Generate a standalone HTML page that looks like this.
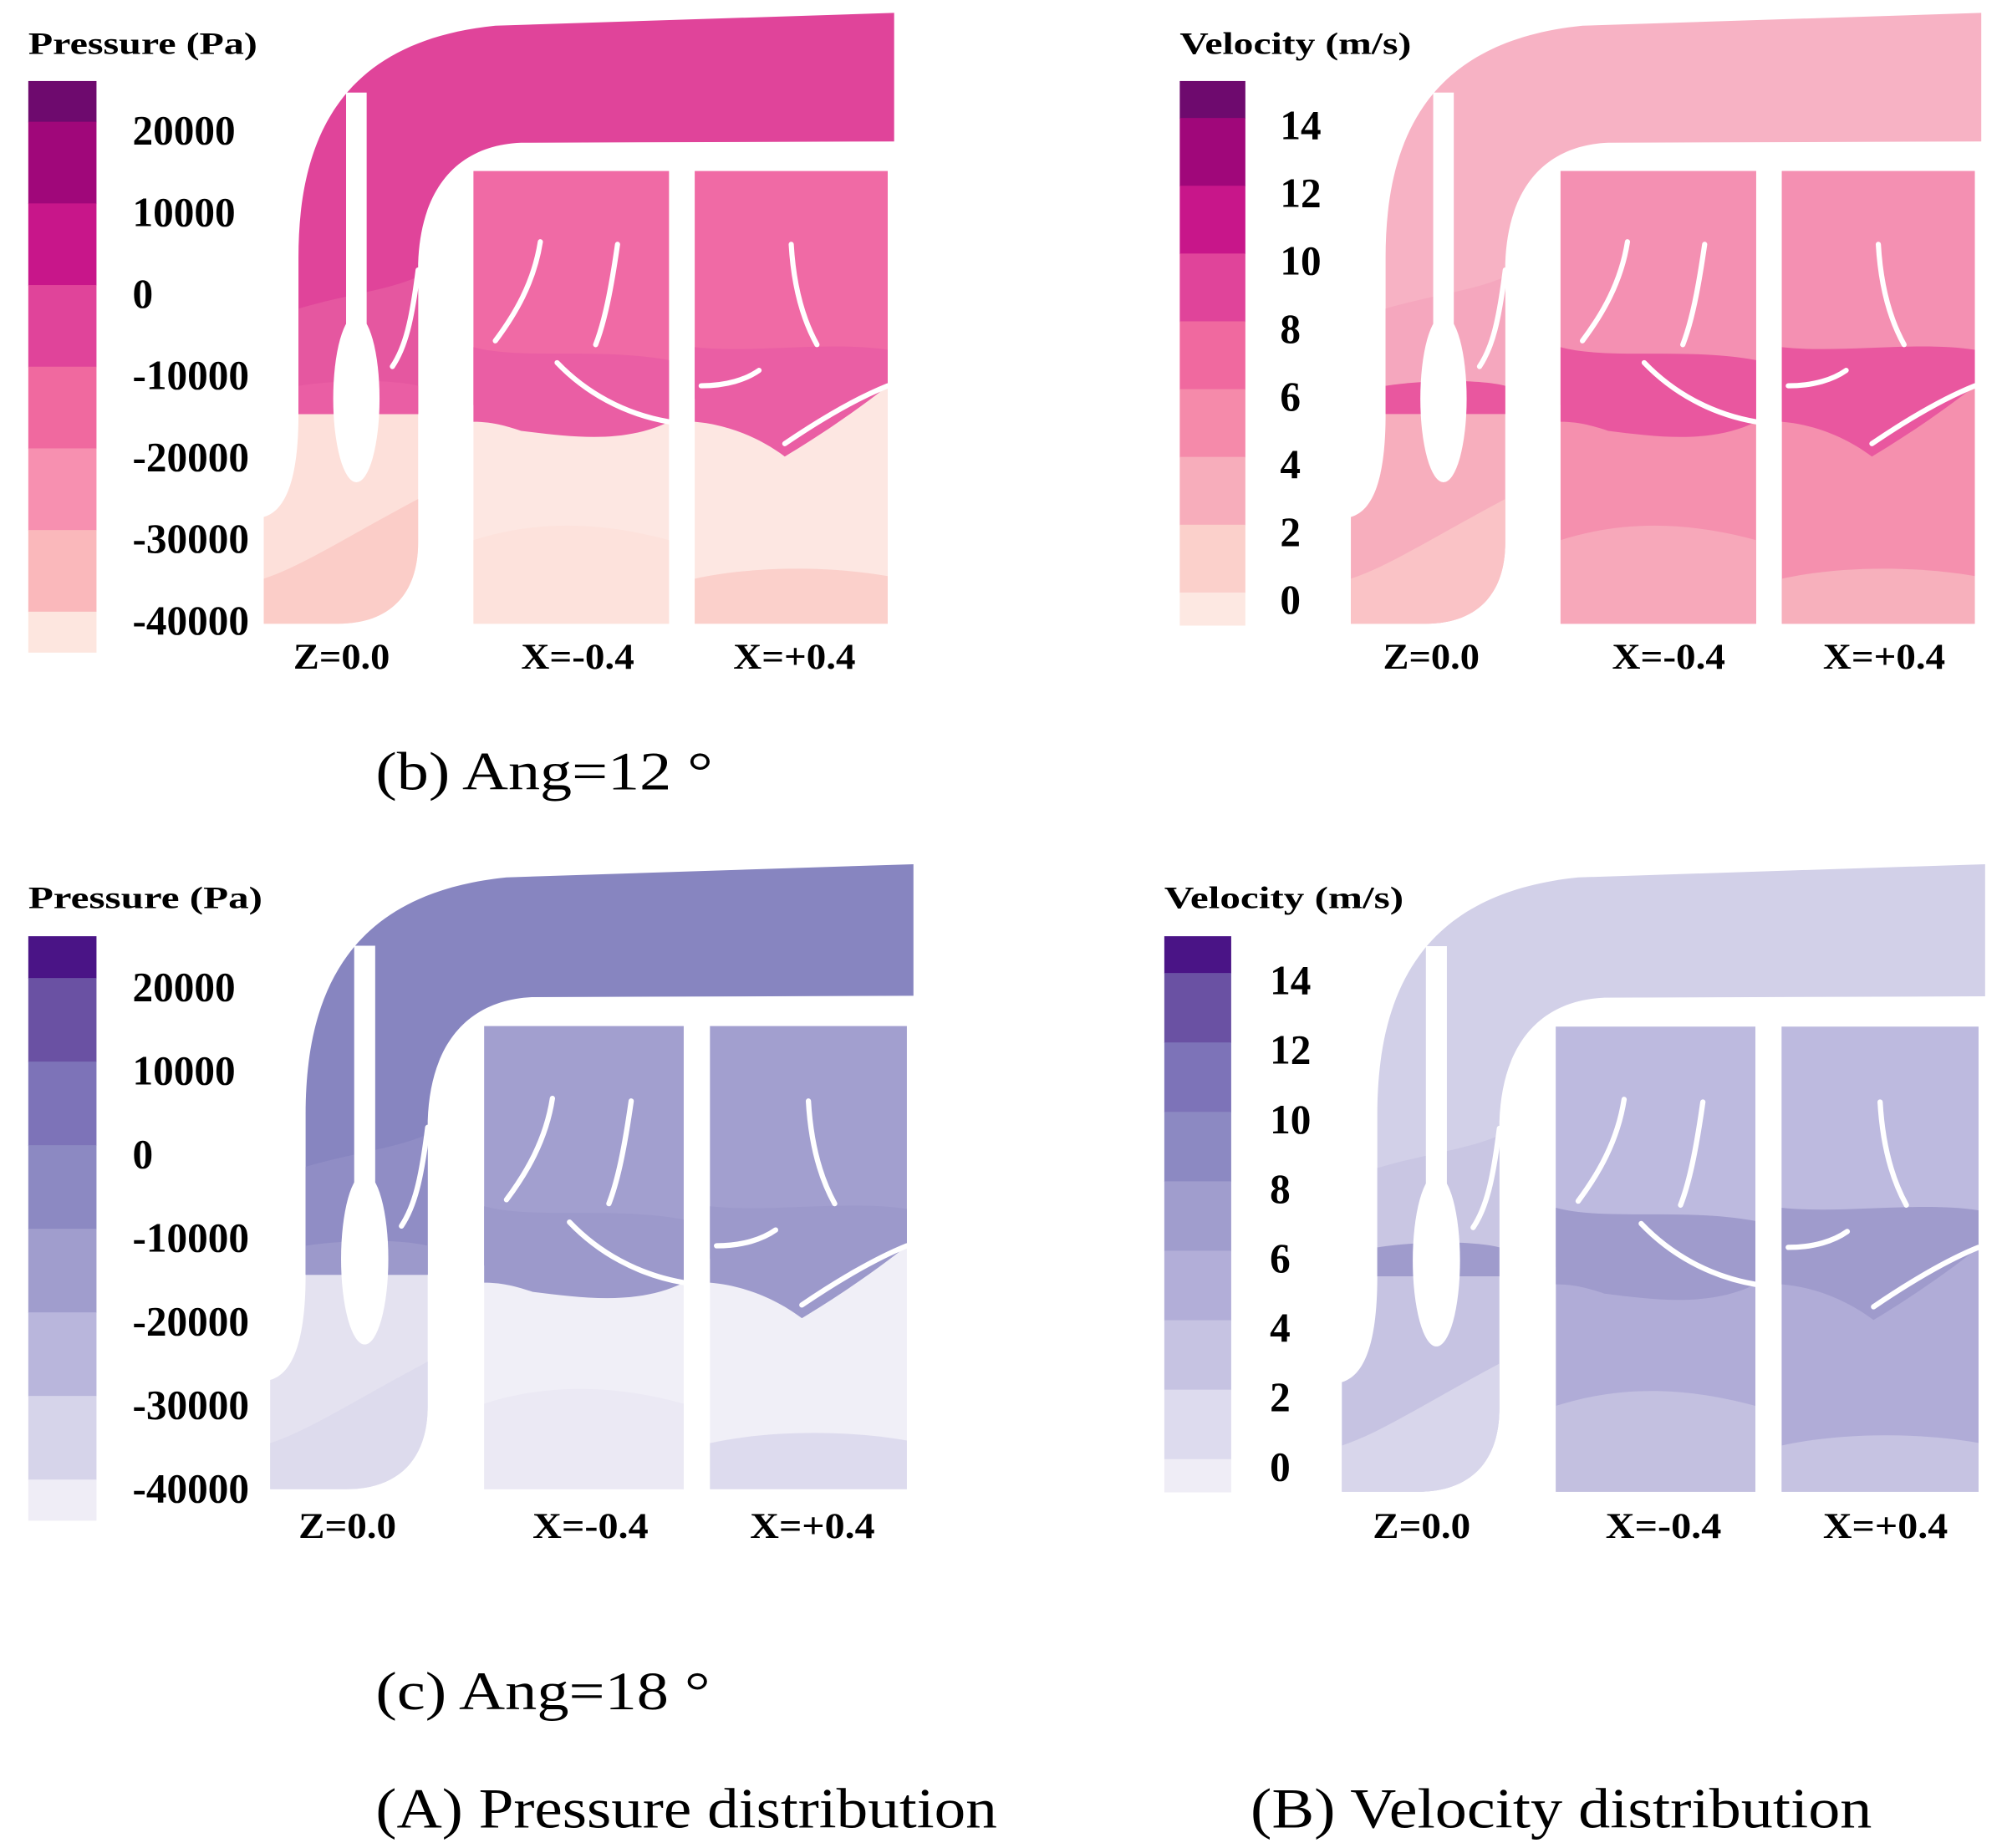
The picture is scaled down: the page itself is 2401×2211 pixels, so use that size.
<!DOCTYPE html>
<html><head><meta charset="utf-8"><style>
html,body{margin:0;padding:0;background:#fff}
svg{display:block}
text{font-family:"Liberation Serif",serif}
.b{font-weight:bold}
</style></head><body>
<svg id="fig" width="2401" height="2211" viewBox="0 0 1560 1437" preserveAspectRatio="none" xmlns="http://www.w3.org/2000/svg">
<rect x="0" y="0" width="1560" height="1437" fill="#fff"/>
<text x="292" y="614" font-size="42" textLength="262" lengthAdjust="spacingAndGlyphs">(b) Ang=12 °</text>
<text x="292" y="1329" font-size="42" textLength="260" lengthAdjust="spacingAndGlyphs">(c) Ang=18 °</text>
<text x="292" y="1421" font-size="44" textLength="483" lengthAdjust="spacingAndGlyphs">(A) Pressure distribution</text>
<text x="972" y="1421" font-size="44" textLength="483" lengthAdjust="spacingAndGlyphs">(B) Velocity distribution</text>
</svg>
<script>
const pressureTicks = ["20000","10000","0","-10000","-20000","-30000","-40000"];
const velocityTicks = ["14","12","10","8","6","4","2","0"];
const pinkPressureBands = ["#6e0a6e","#a0077a","#c8168a","#e0449a","#f0699f","#f790b0","#fab8bb","#fde6df"];
const pinkVelocityBands = ["#6e0a6e","#a0077a","#c8168a","#e0449a","#f0699f","#f58aaa","#f7adbb","#fbd0cb","#fde8e2"];
const purplePressureBands = ["#4a1486","#6a51a3","#7d73b8","#8c89c2","#a09dcd","#b9b6dc","#d6d4ea","#efedf6"];
const purpleVelocityBands = ["#4a1486","#6a51a3","#7d73b8","#8c89c2","#a09dcd","#b2aed8","#c6c3e2","#dddbee","#efedf6"];

const NS="http://www.w3.org/2000/svg";
const svg=document.getElementById('fig');
function mk(tag,attrs,parent){const e=document.createElementNS(NS,tag);for(const k in attrs)e.setAttribute(k,attrs[k]);(parent||svg).appendChild(e);return e;}

function colorbar(name,x,top,bottom,w,ticks,bands,yFirst,yLast,labelX,fs){
  const g=mk('g',{});
  
  
  const n=ticks.length;
  const step=(yLast-yFirst)/(n-1);
  const ty=i=>yFirst+i*step;
  const bounds=[top];
  for(let i=0;i<n;i++)bounds.push(ty(i)-step*0.1);
  bounds.push(bottom);
  const nb=Math.min(bands.length,bounds.length-1);
  const bb = bands.length===bounds.length-1 ? bounds : [top].concat(ticks.map((t,i)=>ty(i)-step*0.1).slice(0,nb-1)).concat([bottom]);
  for(let i=0;i<bb.length-1;i++){
    const r=mk('rect',{x:x,y:bb[i],width:w,height:bb[i+1]-bb[i]+0.5,fill:bands[i]},g);
    
    
  }
  ticks.forEach((t,i)=>{
    const tx=mk('text',{x:labelX,y:ty(i)+fs*0.35,'font-size':fs,'class':'b'},g);
    tx.textContent=t;
    
    
  });
}

function panel(name,x0,y0,w,h,c,labels,labelY){
  const g=mk('g',{transform:`translate(${x0},${y0}) scale(${w/490},${h/475})`});
  
  
  const P=(d,f,nm)=>{const p=mk('path',{d:d,fill:f},g);return p;};
  P("M0,392 C14,388 27,370 27,312 L120,312 L120,412 C120,452 98,475 58,475 L0,475 Z",c.zLow,'z-lower-region');
  P("M0,440 C30,430 60,410 120,378 L120,412 C120,452 98,475 58,475 L0,475 Z",c.zLowBand,'z-lower-band');
  P("M27,312 L27,190 C27,95 62,22 180,10 L490,0 L490,100 L200,101 C152,103 122,135 120,195 L120,312 Z",c.duct,'duct-region');
  P("M27,312 L27,230 C60,220 100,215 120,205 L120,312 Z",c.zUp,'z-upper-region');
  P("M27,312 L27,290 C60,285 100,285 120,290 L120,312 Z",c.mid,'z-mid-band');
  P("M163,123 H315 V475 H163 Z",c.xLow,'xm-lower-region');
  P("M163,410 C210,395 260,395 315,410 V475 H163 Z",c.xLowBand,'xm-lower-band');
  P("M163,123 H315 V318 C280,315 250,300 228,272 C210,292 188,305 163,305 Z",c.xUp,'xm-upper-region');
  P("M163,260 C200,270 260,260 315,270 V318 C280,335 240,330 200,325 C185,320 175,318 163,318 Z",c.mid,'xm-mid-band');
  P("M335,123 H485 V475 H335 Z",c.xLow,'xp-lower-region');
  P("M335,440 C380,430 440,430 485,438 V475 H335 Z",c.xpBand,'xp-lower-band');
  P("M335,123 H485 V290 C460,300 430,318 405,335 C390,315 360,300 335,300 Z",c.xUp,'xp-upper-region');
  P("M335,260 C380,265 440,255 485,262 V290 C460,310 430,330 405,345 C385,330 360,320 335,318 Z",c.mid,'xp-mid-band');
  P("M64,62 L80,62 L80,300 L64,300 Z","#fff",'splitter');
  const hub=mk('ellipse',{cx:72,cy:300,rx:18,ry:65,fill:'#fff'},g);
  
  
  const B=(d,nm)=>{const p=mk('path',{d:d,fill:'none',stroke:'#fff','stroke-width':4,'stroke-linecap':'round'},g);};
  B("M215,178 C210,210 195,235 180,255",'blade');
  B("M275,180 C270,215 265,240 258,258",'blade');
  B("M228,272 C250,295 280,312 315,318",'blade');
  B("M410,180 C412,215 420,240 430,258",'blade');
  B("M340,290 C360,290 375,285 385,278",'blade');
  B("M405,335 C430,318 460,300 485,290",'blade');
  B("M120,200 C115,240 110,260 100,275",'blade');
  labels.forEach(l=>{
    const t=mk('text',{x:l[0],y:labelY,'font-size':28,'class':'b',textLength:l[2],lengthAdjust:'spacingAndGlyphs'});
    t.textContent=l[1];
    
    
  });
}
function title(txt,x,y,len,nm){const t=mk('text',{x:x,y:y,'font-size':24,'class':'b',textLength:len,lengthAdjust:'spacingAndGlyphs'});t.textContent=txt;}

title("Pressure  (Pa)",22,42,178,'pressure-b-title');
colorbar('pressure-b',22,63,507,53,pressureTicks,pinkPressureBands,101,482,103,32);
panel('pressure-b',205,10,490,475,{duct:'#e0449a',zUp:'#e557a0',mid:'#ea5ea4',xUp:'#f06aa5',xLow:'#fde7e2',xLowBand:'#fde2dc',zLow:'#fde0da',zLowBand:'#fbcdc8',xpBand:'#fbd0cb'},[[228,'Z=0.0',75],[405,'X=-0.4',88],[570,'X=+0.4',95]],520);
title("Velocity  (m/s)",917,42,180,'velocity-b-title');
colorbar('velocity-b',917,63,486,51,velocityTicks,pinkVelocityBands,97,466,995,32);
panel('velocity-b',1050,10,490,475,{duct:'#f7b2c4',zUp:'#f5a7be',mid:'#e9579f',xUp:'#f490b2',xLow:'#f590ae',xLowBand:'#f7a8ba',zLow:'#f7aebd',zLowBand:'#fac3c6',xpBand:'#f7b0bc'},[[1075,'Z=0.0',75],[1253,'X=-0.4',88],[1417,'X=+0.4',95]],520);
title("Pressure  (Pa)",22,706,182,'pressure-c-title');
colorbar('pressure-c',22,728,1182,53,pressureTicks,purplePressureBands,767,1157,103,32);
panel('pressure-c',210,672,500,486,{duct:'#8785c0',zUp:'#908dc5',mid:'#9c99cb',xUp:'#a29fcf',xLow:'#f0eff7',xLowBand:'#ebe9f4',zLow:'#e4e2f0',zLowBand:'#dddbed',xpBand:'#dddbee'},[[232,'Z=0.0',76],[414,'X=-0.4',90],[583,'X=+0.4',97]],1196);
title("Velocity  (m/s)",905,706,186,'velocity-c-title');
colorbar('velocity-c',905,728,1160,52,velocityTicks,purpleVelocityBands,762,1140,987,32);
panel('velocity-c',1043,672,500,488,{duct:'#d2d0e8',zUp:'#c9c6e3',mid:'#9f9bcc',xUp:'#bdbadf',xLow:'#b0acd7',xLowBand:'#c3c0e0',zLow:'#c6c3e2',zLowBand:'#d8d6eb',xpBand:'#c6c3e2'},[[1067,'Z=0.0',76],[1248,'X=-0.4',90],[1417,'X=+0.4',97]],1196);
</script>
</body></html>
